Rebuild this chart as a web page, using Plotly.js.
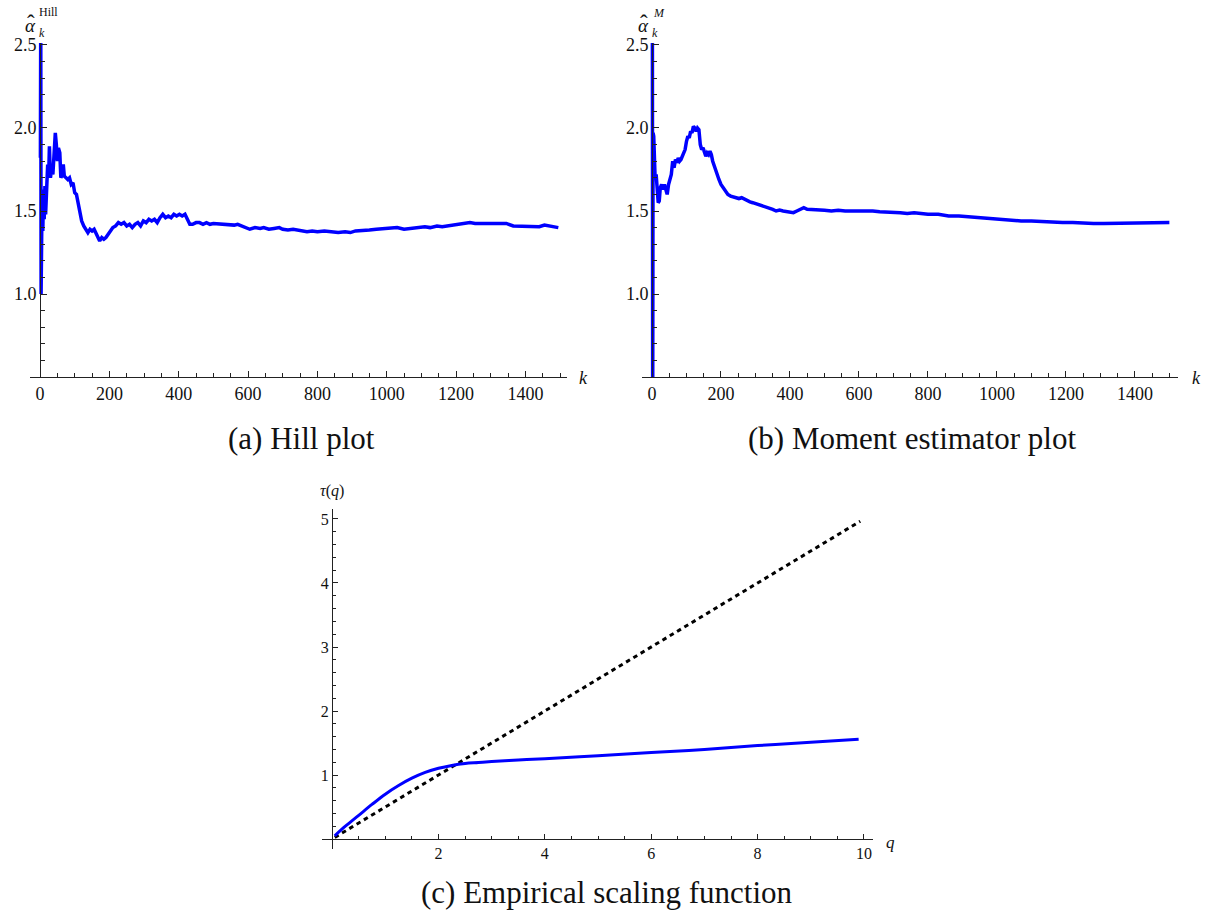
<!DOCTYPE html>
<html>
<head>
<meta charset="utf-8">
<script src="https://cdn.plot.ly/plotly-3.0.1.min.js"></script>
<style>html,body{margin:0;padding:0;background:#fff;}#chart{width:1207px;height:912px;}</style>
</head>
<body>
<div id="chart"></div>
<script>
// ---- Data ----
const hillK = [1,2,3,4,5,6,8,10,12,14,16,18,20,22,25,27,30,33,37,40,44,47,50,53,57,60,64,67,70,75,80,85,90,95,100,105,110,115,120,126,132,138,144,150,156,162,168,172,178,184,190,196,202,210,218,226,234,242,250,258,266,274,282,290,298,306,314,322,330,338,346,354,362,370,378,386,394,402,410,418,425,432,440,450,460,470,480,490,500,520,540,560,570,580,595,605,620,635,645,660,675,690,700,715,730,745,760,770,785,800,820,840,860,880,895,910,930,950,970,990,1010,1030,1050,1070,1090,1110,1125,1145,1160,1180,1200,1220,1240,1255,1270,1290,1310,1330,1345,1365,1385,1405,1425,1440,1455,1475,1495];
const hillVal = [1.82,2.70,1.00,1.60,1.40,1.62,1.38,1.63,1.45,1.65,1.48,1.65,1.62,1.78,1.72,1.89,1.70,1.75,1.72,1.80,1.97,1.90,1.80,1.88,1.85,1.70,1.72,1.78,1.71,1.70,1.69,1.70,1.66,1.67,1.61,1.60,1.55,1.49,1.44,1.41,1.39,1.37,1.39,1.38,1.39,1.36,1.33,1.32,1.34,1.33,1.34,1.36,1.38,1.40,1.41,1.43,1.42,1.43,1.41,1.42,1.40,1.42,1.43,1.41,1.44,1.43,1.45,1.44,1.45,1.43,1.46,1.48,1.46,1.47,1.46,1.48,1.47,1.48,1.47,1.48,1.45,1.42,1.42,1.43,1.43,1.42,1.43,1.42,1.425,1.42,1.42,1.415,1.42,1.41,1.40,1.39,1.40,1.395,1.40,1.39,1.395,1.40,1.39,1.385,1.39,1.385,1.38,1.375,1.38,1.375,1.38,1.375,1.37,1.375,1.37,1.38,1.38,1.385,1.39,1.395,1.40,1.40,1.39,1.395,1.40,1.405,1.40,1.41,1.405,1.41,1.415,1.42,1.43,1.425,1.425,1.42,1.425,1.42,1.425,1.41,1.41,1.405,1.41,1.405,1.415,1.41,1.40];

const momK = [1,2,3,5,7,9,12,15,18,21,24,28,32,36,40,44,48,52,56,60,64,68,72,76,80,84,88,92,96,100,104,108,112,116,120,124,128,132,136,140,144,148,152,156,160,164,168,172,176,182,188,194,200,206,212,220,228,236,244,252,260,268,276,284,292,300,310,320,330,340,350,360,370,380,390,400,410,420,430,440,450,465,480,500,520,540,560,580,600,620,640,660,680,700,720,740,760,780,800,830,860,890,920,950,980,1010,1040,1070,1100,1130,1160,1190,1220,1250,1280,1310,1340,1370,1400,1430,1460,1500];
const momVal = [3.00,0.20,1.97,1.95,1.80,1.70,1.72,1.58,1.55,1.56,1.64,1.66,1.63,1.66,1.62,1.60,1.66,1.70,1.72,1.80,1.76,1.81,1.79,1.82,1.80,1.81,1.83,1.86,1.87,1.92,1.95,1.94,1.98,1.97,2.01,2.00,1.98,2.00,1.99,1.90,1.87,1.88,1.85,1.83,1.85,1.84,1.86,1.84,1.80,1.76,1.73,1.69,1.66,1.64,1.62,1.60,1.59,1.585,1.58,1.575,1.58,1.57,1.56,1.555,1.55,1.545,1.535,1.53,1.525,1.52,1.51,1.50,1.505,1.50,1.495,1.495,1.49,1.50,1.51,1.52,1.51,1.51,1.505,1.505,1.50,1.505,1.50,1.50,1.505,1.50,1.50,1.495,1.495,1.49,1.49,1.485,1.49,1.485,1.48,1.48,1.47,1.47,1.465,1.46,1.455,1.445,1.44,1.44,1.44,1.435,1.435,1.43,1.43,1.425,1.425,1.425,1.425,1.43,1.43,1.43,1.43,1.43];

const qVals = [0.05,0.25,0.5,0.75,1,1.25,1.5,1.75,2,2.25,2.5,2.75,3,3.5,4,5,6,7,8,9,9.9];
const tauVals = [0.05,0.2,0.37,0.54,0.70,0.835,0.95,1.04,1.105,1.15,1.18,1.195,1.21,1.235,1.255,1.30,1.35,1.40,1.46,1.51,1.56];
const refQ = [0.05,9.93];
const refTau = [0.025,4.965];

const hillTicks = [0,200,400,600,800,1000,1200,1400];
const alphaTicks = [1.0,1.5,2.0,2.5];
const qTicks = [2,4,6,8,10];
const tauTicks = [1,2,3,4,5];

// ---- Layout helpers (pixel -> paper) ----
const W = 1207, H = 912;
const px = v => v / W;
const py = v => (H - v) / H;
const AX = '#222';
const SERIF = 'Liberation Serif';
const tickFont = {family: SERIF, size: 18, color: '#111'};
const tickFontSmall = {family: SERIF, size: 16, color: '#111'};

function xAx(domain, range, tickvals, minorD, extra) {
  return Object.assign({
    domain: domain, range: range, tickvals: tickvals, showgrid: false, zeroline: false,
    showline: true, linecolor: AX, linewidth: 1, ticks: 'inside', ticklen: 6, tickcolor: AX, tickwidth: 1,
    tickfont: tickFont, minor: {dtick: minorD, ticks: 'inside', ticklen: 4, tickcolor: AX, showgrid: false}
  }, extra || {});
}
function yAx(domain, range, tickvals, minorD, extra) {
  return Object.assign({
    domain: domain, range: range, tickvals: tickvals, showgrid: false, zeroline: false,
    showline: true, linecolor: AX, linewidth: 1, ticks: 'inside', ticklen: 6, tickcolor: AX, tickwidth: 1,
    tickfont: tickFont, minor: {dtick: minorD, tick0: 0, ticks: 'inside', ticklen: 4, tickcolor: AX, showgrid: false}
  }, extra || {});
}

const blue = '#0000ff';
const traces = [
  {x: hillK, y: hillVal, xaxis: 'x', yaxis: 'y', mode: 'lines', line: {color: blue, width: 3.5}, hoverinfo: 'skip'},
  {x: momK, y: momVal, xaxis: 'x2', yaxis: 'y2', mode: 'lines', line: {color: blue, width: 3.5}, hoverinfo: 'skip'},
  {x: refQ, y: refTau, xaxis: 'x3', yaxis: 'y3', mode: 'lines', line: {color: '#000', width: 3, dash: '4.5px,4px'}, hoverinfo: 'skip'},
  {x: qVals, y: tauVals, xaxis: 'x3', yaxis: 'y3', mode: 'lines', line: {color: blue, width: 3, shape: 'spline', smoothing: 1}, hoverinfo: 'skip'}
];

const topY = [py(377), py(43)];
const yRangeTop = [0.5, 2.512];

const capFont = {family: SERIF, size: 31, color: '#111'};

function ann(x, y, text, size, extra) {
  return Object.assign({xref: 'paper', yref: 'paper', x: px(x), y: py(y), text: text, showarrow: false,
    xanchor: 'center', yanchor: 'middle', font: {family: SERIF, color: '#111', size: size}}, extra || {});
}

const layout = {
  width: W, height: H, margin: {l: 0, r: 0, t: 0, b: 0}, paper_bgcolor: '#fff', plot_bgcolor: 'rgba(0,0,0,0)',
  showlegend: false,
  xaxis: xAx([px(30), px(567)], [-29, 1520], hillTicks, 50, {anchor: 'y'}),
  yaxis: yAx(topY, yRangeTop, alphaTicks, 0.1, {anchor: 'free', position: px(40), tickformat: '.1f'}),
  xaxis2: xAx([px(642), px(1178)], [-29, 1525], hillTicks, 50, {anchor: 'y2'}),
  yaxis2: yAx(topY, yRangeTop, alphaTicks, 0.1, {anchor: 'free', position: px(652), tickformat: '.1f'}),
  xaxis3: xAx([px(322), px(873)], [-0.19, 10.17], qTicks, 0.5, {anchor: 'free', position: py(839), tickfont: tickFontSmall, ticklen: 5, minor: {dtick: 0.5, tick0: 0, ticks: 'inside', ticklen: 3, tickcolor: AX, showgrid: false}}),
  yaxis3: yAx([py(849), py(509)], [-0.156, 5.156], tauTicks, 0.2, {anchor: 'free', position: px(332), tickfont: tickFontSmall, ticklen: 5, minor: {dtick: 0.2, tick0: 0, ticks: 'inside', ticklen: 3, tickcolor: AX, showgrid: false}}),
  annotations: [
    // axis labels: alpha-hat with subscript k and superscript
    ann(30, 25, '<i>α</i>', 19),
    ann(31, 23, 'ˆ', 23),
    ann(42, 33, '<i>k</i>', 12),
    ann(48, 12, 'Hill', 12),
    ann(643, 25, '<i>α</i>', 19),
    ann(644, 23, 'ˆ', 23),
    ann(655, 33, '<i>k</i>', 12),
    ann(659, 13, '<i>M</i>', 12),
    ann(583, 378, '<i>k</i>', 18),
    ann(1196, 378, '<i>k</i>', 18),
    ann(332, 491, '<i>τ</i>(<i>q</i>)', 16),
    ann(890, 842, '<i>q</i>', 17),
    // captions
    ann(301, 438, '(a) Hill plot', 31, {font: capFont}),
    ann(912, 438, '(b) Moment estimator plot', 31, {font: capFont}),
    ann(607, 892, '(c) Empirical scaling function', 31, {font: capFont})
  ]
};

Plotly.newPlot('chart', traces, layout, {staticPlot: true, displayModeBar: false});
</script>
</body>
</html>
